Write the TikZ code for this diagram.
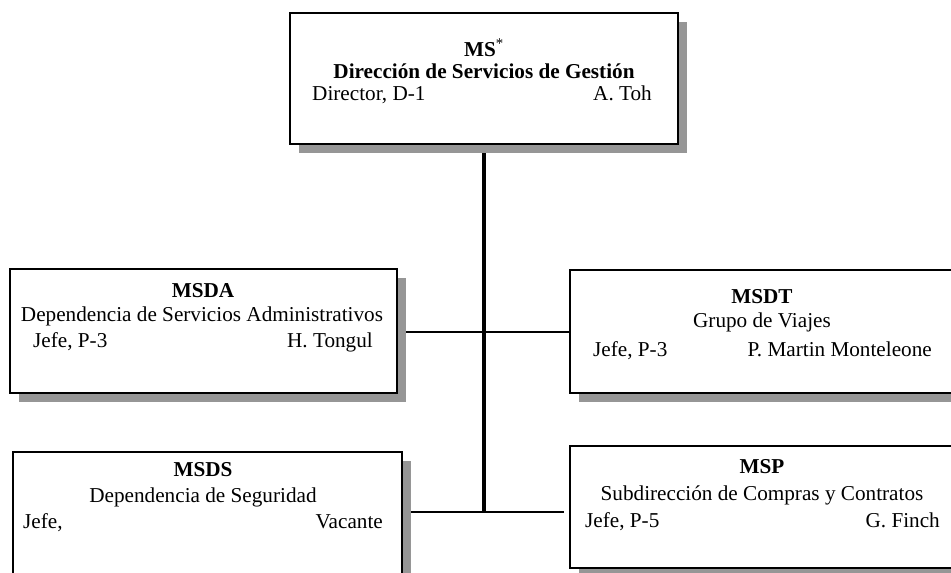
\documentclass[tikz,border=0pt]{standalone}
\usepackage{fontspec}
\setmainfont{Liberation Serif}
\usetikzlibrary{shadows,backgrounds}
\definecolor{shadowgray}{RGB}{150,150,150}
\begin{document}
\begin{tikzpicture}[x=1pt,y=-1pt,
  box/.style={draw, line width=2.2pt, fill=white, inner sep=0pt,
    drop shadow={shadow xshift=9pt, shadow yshift=-9pt, fill=shadowgray, opacity=1}},
  txt/.style={font=\fontsize{21.2}{25}\selectfont, inner sep=0pt},
  vline/.style={line width=3.2pt},
  hline/.style={line width=2.7pt}]
\useasboundingbox (0,0) rectangle (951,573);
% boxes
\node[box, minimum width=388pt, minimum height=131pt] (top) at (484,78.5) {};
\node[box, minimum width=387pt, minimum height=124pt] (msda) at (203.5,331) {};
\node[box, minimum width=391pt, minimum height=123pt] (msdt) at (765.5,331.5) {};
\node[box, minimum width=389pt, minimum height=148pt] (msds) at (207.5,526) {};
\node[box, minimum width=395pt, minimum height=122pt] (msp) at (767.5,507) {};
% connectors
\coordinate (j1) at (484,332);
\coordinate (j2) at (484,512);
\coordinate (e2) at (564,512);
\begin{pgfonlayer}{background}
\draw[vline] (top.south) -- (j2);
\draw[hline] (msda.east |- j1) -- (msdt.west |- j1);
\draw[hline] (msds.east |- j2) -- (e2);
\end{pgfonlayer}
% texts top
\node[txt, anchor=base] (t0) at (484,56) {\textbf{MS}\textsuperscript{*}};
\node[txt, anchor=base] (t1) at (484,78) {\textbf{Dirección de Servicios de Gestión}};
\node[txt, anchor=base west] (t2) at (312,100) {Director, D-1};
\node[txt, anchor=base east] (t3) at (652,100) {A. Toh};
% MSDA
\node[txt, anchor=base] (a0) at (203,297) {\textbf{MSDA}};
\node[txt, anchor=base] (a1) at (202,321) {Dependencia de Servicios Administrativos};
\node[txt, anchor=base west] (a2) at (33,347) {Jefe, P-3};
\node[txt, anchor=base east] (a3) at (373,347) {H. Tongul};
% MSDT
\node[txt, anchor=base] (b0) at (762,303) {\textbf{MSDT}};
\node[txt, anchor=base] (b1) at (762,327) {Grupo de Viajes};
\node[txt, anchor=base west] (b2) at (593,356) {Jefe, P-3};
\node[txt, anchor=base east] (b3) at (932,356) {P. Martin Monteleone};
% MSDS
\node[txt, anchor=base] (c0) at (203,476) {\textbf{MSDS}};
\node[txt, anchor=base] (c1) at (203,502) {Dependencia de Seguridad};
\node[txt, anchor=base west] (c2) at (23,528) {Jefe,};
\node[txt, anchor=base east] (c3) at (383,528) {Vacante};
% MSP
\node[txt, anchor=base] (d0) at (762,473) {\textbf{MSP}};
\node[txt, anchor=base] (d1) at (762,500) {Subdirección de Compras y Contratos};
\node[txt, anchor=base west] (d2) at (585,527) {Jefe, P-5};
\node[txt, anchor=base east] (d3) at (940,527) {G. Finch};
\end{tikzpicture}
\end{document}
